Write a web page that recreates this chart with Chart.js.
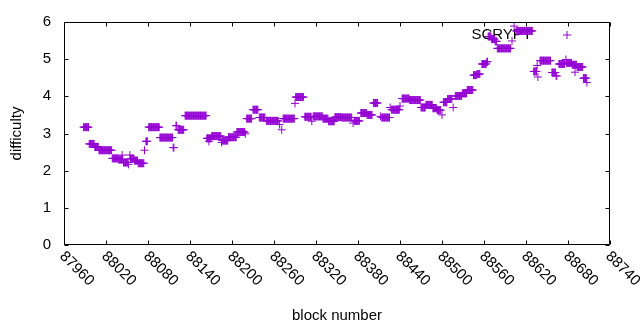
<!DOCTYPE html>
<html>
<head>
<meta charset="utf-8">
<script src="https://cdn.jsdelivr.net/npm/chart.js@4"></script>
<style>
html, body { margin: 0; padding: 0; background: #fff; }
</style>
</head>
<body>
<canvas id="myChart" width="640" height="330"></canvas>
<script>
// runs of equal difficulty: first block, last block, value
const runStart = [87988, 87996, 88004, 88010, 88029, 88038, 88043, 88045, 88052, 88054,
  88055, 88061, 88066, 88075, 88077, 88081, 88097, 88116, 88120, 88123,
  88133, 88164, 88167, 88171, 88185, 88186, 88195, 88207, 88219, 88221,
  88230, 88239, 88249, 88268, 88271, 88273, 88290, 88291, 88304, 88314,
  88316, 88330, 88338, 88347, 88357, 88373, 88375, 88384, 88393, 88402,
  88412, 88414, 88426, 88428, 88440, 88443, 88454, 88470, 88477, 88487,
  88493, 88500, 88502, 88508, 88516, 88519, 88529, 88536, 88545, 88550,
  88557, 88564, 88566, 88571, 88576, 88579, 88600, 88603, 88606, 88631,
  88636, 88637, 88640, 88657, 88663, 88667, 88677, 88678, 88686, 88690,
  88693, 88702, 88707];
const runEnd = [87995, 88003, 88009, 88028, 88037, 88044, 88043, 88051, 88052, 88054,
  88060, 88065, 88074, 88075, 88079, 88096, 88115, 88117, 88121, 88131,
  88163, 88170, 88167, 88184, 88185, 88194, 88206, 88218, 88219, 88228,
  88237, 88247, 88266, 88268, 88271, 88289, 88290, 88302, 88313, 88314,
  88329, 88337, 88346, 88356, 88371, 88373, 88382, 88392, 88400, 88408,
  88412, 88425, 88426, 88439, 88440, 88453, 88469, 88476, 88486, 88492,
  88498, 88500, 88507, 88514, 88516, 88528, 88535, 88544, 88549, 88554,
  88563, 88565, 88570, 88575, 88578, 88598, 88600, 88603, 88629, 88635,
  88636, 88637, 88655, 88662, 88664, 88675, 88677, 88685, 88692, 88690,
  88701, 88706, 88707];
const difficulty = [3.17, 2.72, 2.64, 2.55, 2.33, 2.30, 2.42, 2.22, 2.17, 2.42,
  2.32, 2.27, 2.20, 2.55, 2.79, 3.17, 2.89, 2.62, 3.21, 3.10,
  3.48, 2.87, 2.79, 2.93, 2.76, 2.81, 2.90, 3.04, 2.99, 3.40,
  3.64, 3.43, 3.34, 3.24, 3.10, 3.40, 3.81, 3.98, 3.45, 3.33,
  3.46, 3.40, 3.33, 3.44, 3.43, 3.28, 3.34, 3.55, 3.50, 3.82,
  3.46, 3.43, 3.70, 3.64, 3.74, 3.94, 3.90, 3.70, 3.77, 3.68,
  3.63, 3.50, 3.84, 3.93, 3.70, 4.01, 4.08, 4.17, 4.57, 4.60,
  4.87, 4.93, 5.61, 5.54, 5.48, 5.29, 5.49, 5.89, 5.76, 4.67,
  4.83, 4.52, 4.96, 4.64, 4.55, 4.87, 4.99, 4.90, 4.85, 4.65,
  4.79, 4.49, 4.37];

const xTicks = [87960, 88020, 88080, 88140, 88200, 88260, 88320, 88380, 88440, 88500, 88560, 88620, 88680, 88740];
const yTicks = [0, 1, 2, 3, 4, 5, 6];
const seriesName = 'SCRYPT';

const purple = '#9400d3';
const font = '15px "Liberation Sans", Arial, sans-serif';

// one point per block inside each run
let points = [];
for (let i = 0; i < runStart.length; i++) {
    for (let b = runStart[i]; b <= runEnd[i]; b++) {
        points.push({x: b, y: difficulty[i]});
    }
}

// gnuplot look: border, inward ticks on all sides, rotated x labels, titles, key
const gnuplotFrame = {
    id: 'gnuplotFrame',
    beforeDatasetsDraw(chart) {
        const ctx = chart.ctx;
        const a = chart.chartArea;
        ctx.save();
        // key text + sample, data gets drawn over it
        ctx.font = font;
        ctx.fillStyle = '#000';
        ctx.textAlign = 'right';
        ctx.textBaseline = 'middle';
        ctx.fillText(seriesName, a.right - 78, a.top + 13);
        ctx.strokeStyle = purple;
        ctx.lineWidth = 1;
        Chart.helpers.drawPoint(ctx, {pointStyle: 'cross', radius: 4, rotation: 0, borderWidth: 1}, a.right - 43, a.top + 13);
        ctx.restore();
    },
    afterDatasetsDraw(chart) {
        const ctx = chart.ctx;
        const a = chart.chartArea;
        const xs = chart.scales.x;
        const ys = chart.scales.y;
        const L = Math.round(a.left) + 0.5, R = Math.round(a.right) - 0.5;
        const T = Math.round(a.top) + 0.5, B = Math.round(a.bottom) - 0.5;
        ctx.save();
        ctx.strokeStyle = '#000';
        ctx.lineWidth = 1;
        ctx.beginPath();
        ctx.rect(L, T, R - L, B - T);
        xTicks.forEach(function(v) {
            let px = Math.round(xs.getPixelForValue(v)) + 0.5;
            ctx.moveTo(px, B); ctx.lineTo(px, B - 4);
            ctx.moveTo(px, T); ctx.lineTo(px, T + 4);
        });
        yTicks.forEach(function(v) {
            let py = Math.round(ys.getPixelForValue(v)) + 0.5;
            ctx.moveTo(L, py); ctx.lineTo(L + 4, py);
            ctx.moveTo(R, py); ctx.lineTo(R - 4, py);
        });
        ctx.stroke();

        ctx.font = font;
        ctx.fillStyle = '#000';
        // rotated x tick labels, reading down to the right
        xTicks.forEach(function(v) {
            let px = xs.getPixelForValue(v);
            ctx.save();
            ctx.translate(px - 2, a.bottom + 9);
            ctx.rotate(Math.PI / 4);
            ctx.textAlign = 'left';
            ctx.textBaseline = 'middle';
            ctx.fillText(String(v), 0, 0);
            ctx.restore();
        });
        // axis titles
        ctx.textAlign = 'center';
        ctx.textBaseline = 'middle';
        ctx.fillText('block number', (a.left + a.right) / 2, 316);
        ctx.save();
        ctx.translate(17, (a.top + a.bottom) / 2);
        ctx.rotate(-Math.PI / 2);
        ctx.fillText('difficulty', 0, 0);
        ctx.restore();
        ctx.restore();
    }
};

let ctx = document.getElementById('myChart');
let myChart = new Chart(ctx, {
    type: 'scatter',
    data: {
        datasets: [{
            label: seriesName,
            data: points,
            pointStyle: 'cross',
            pointRadius: 4,
            pointHoverRadius: 4,
            borderColor: purple,
            backgroundColor: purple,
            borderWidth: 1,
            showLine: false
        }]
    },
    options: {
        responsive: false,
        animation: false,
        devicePixelRatio: 1,
        layout: { padding: { top: 19, right: 30, left: 0, bottom: 0 } },
        plugins: {
            legend: { display: false },
            tooltip: { enabled: false }
        },
        scales: {
            x: {
                type: 'linear',
                min: 87960,
                max: 88740,
                ticks: { display: false },
                grid: { display: false, drawTicks: false },
                border: { display: false },
                afterFit: function(s) { s.height = 85; }
            },
            y: {
                min: 0,
                max: 6,
                afterBuildTicks: function(s) { s.ticks = yTicks.map(v => ({value: v})); },
                ticks: {
                    color: '#000',
                    font: { family: '"Liberation Sans", Arial, sans-serif', size: 15 },
                    padding: 13
                },
                grid: { display: false, drawTicks: false },
                border: { display: false },
                afterFit: function(s) { s.width = 64; }
            }
        }
    },
    plugins: [gnuplotFrame]
});
</script>
</body>
</html>
